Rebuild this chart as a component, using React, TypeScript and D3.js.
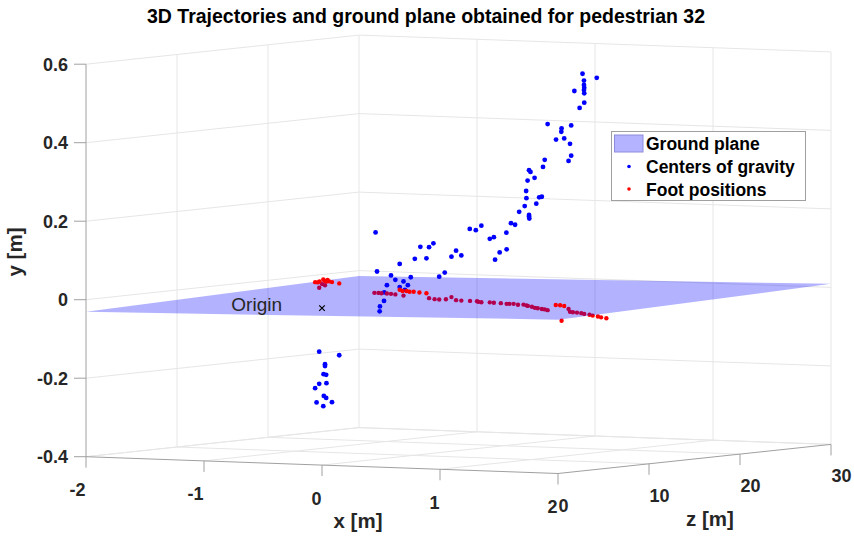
import React, { useEffect, useRef } from "react";
import * as d3 from "d3";

const width = 854;
const height = 537;
const font = "'Liberation Sans', Arial, Helvetica, sans-serif";

const xTicks = [-2, -1, 0, 1, 2];
const yTicks = [-0.4, -0.2, 0, 0.2, 0.4, 0.6];
const zTicks = [0, 10, 20, 30];
const xTickLabels = ["-2", "-1", "0", "1", "2"];
const yTickLabels = ["-0.4", "-0.2", "0", "0.2", "0.4", "0.6"];
const zTickLabels = ["0", "10", "20", "30"];

// ground plane corners (x, z) and fitted height y
const planeX = [-2, -2, 2, 2];
const planeZ = [0, 30, 30, 0];
const planeY = [-0.031, -0.014, 0.009, -0.008];

// [x, y, z] in metres
const centersOfGravity = [
  [-1.89, -0.191, 24.2], [-1.62, -0.194, 22.9], [-1.81, -0.221, 23.8], [-1.81, -0.226, 23.8],
  [-1.83, -0.247, 23.9], [-1.8, -0.248, 23.8], [-1.89, -0.273, 24.2], [-1.79, -0.269, 23.7],
  [-1.94, -0.285, 24.4], [-1.82, -0.302, 23.8], [-1.8, -0.307, 23.8], [-1.92, -0.321, 24.3],
  [-1.72, -0.316, 23.4], [-1.84, -0.329, 24.0],
  [-1.15, 0.129, 20.8], [-1.13, 0.03, 20.7], [-0.95, 0.024, 19.9], [-0.89, 0.014, 19.6],
  [-1.0, -0.002, 20.1], [-0.79, 0.012, 19.2], [-0.73, 0.004, 18.9], [-0.69, 0.025, 18.7],
  [-0.83, -0.003, 19.3], [-0.77, -0.009, 19.1], [-1.03, -0.021, 20.2], [-1.04, -0.043, 20.3],
  [-1.09, -0.058, 20.5], [-1.1, -0.071, 20.6], [-0.83, 0.056, 19.3], [-0.64, 0.073, 18.5],
  [-0.57, 0.105, 18.2], [-0.45, 0.107, 17.6], [-0.39, 0.118, 17.3], [-0.48, 0.078, 17.7],
  [-0.31, 0.035, 16.9], [-0.24, 0.047, 16.6], [-0.16, 0.089, 16.3], [-0.09, 0.106, 15.9],
  [-0.03, 0.095, 15.7], [0.08, 0.165, 15.2], [0.17, 0.164, 14.7], [0.24, 0.177, 14.4],
  [0.35, 0.146, 13.9], [0.4, 0.151, 13.7], [0.41, 0.094, 13.7], [0.48, 0.114, 13.3],
  [0.57, 0.124, 12.9], [0.56, 0.166, 13.0], [0.63, 0.192, 12.6], [0.68, 0.189, 12.4],
  [0.73, 0.223, 12.2], [0.8, 0.239, 11.9], [0.86, 0.218, 11.6], [0.86, 0.214, 11.6],
  [0.87, 0.209, 11.5], [0.82, 0.278, 11.8], [0.83, 0.26, 11.7], [0.84, 0.305, 11.7],
  [0.86, 0.332, 11.6], [0.88, 0.328, 11.5], [0.93, 0.314, 11.3], [0.96, 0.249, 11.1],
  [1.0, 0.266, 10.9], [1.03, 0.268, 10.8], [1.04, 0.344, 10.8], [1.07, 0.363, 10.6],
  [1.11, 0.455, 10.4], [1.22, 0.418, 9.9], [1.28, 0.439, 9.7], [1.29, 0.448, 9.6],
  [1.32, 0.423, 9.5], [1.38, 0.367, 9.2], [1.41, 0.381, 9.1], [1.4, 0.411, 9.1],
  [1.41, 0.458, 9.1], [1.52, 0.505, 8.6], [1.59, 0.52, 8.2], [1.46, 0.547, 8.8],
  [1.56, 0.593, 8.4], [1.58, 0.576, 8.3], [1.58, 0.565, 8.3], [1.59, 0.558, 8.2],
  [1.58, 0.552, 8.3], [1.59, 0.544, 8.2], [1.75, 0.587, 7.5],
];

const footPositions = [
  [-1.94, -0.015, 24.4], [-1.91, -0.015, 24.3], [-1.88, -0.012, 24.1], [-1.84, -0.006, 24.0],
  [-1.82, -0.009, 23.9], [-1.79, -0.01, 23.7], [-1.81, -0.02, 23.8], [-1.89, -0.028, 24.2],
  [-1.72, -0.01, 23.4], [-1.62, -0.011, 22.9], [-1.85, -0.018, 24.0], [-1.78, -0.006, 23.7],
  [-1.76, -0.009, 23.6],
  [-1.16, -0.025, 20.8], [-1.11, -0.024, 20.6], [-1.07, -0.024, 20.4], [-1.0, -0.023, 20.1],
  [-0.95, -0.023, 19.9], [-0.89, -0.023, 19.6], [-0.83, -0.01, 19.3], [-0.79, -0.012, 19.1],
  [-0.74, -0.011, 18.9], [-0.7, -0.012, 18.7], [-0.65, -0.011, 18.5], [-0.57, -0.011, 18.1],
  [-0.48, -0.011, 17.7], [-0.79, -0.024, 19.2], [-0.45, -0.023, 17.6], [-0.38, -0.024, 17.3],
  [-0.31, -0.023, 16.9], [-0.23, -0.021, 16.6], [-0.16, -0.014, 16.3], [-0.09, -0.02, 15.9],
  [-0.03, -0.02, 15.7], [0.09, -0.018, 15.1], [0.18, -0.017, 14.7], [0.2, -0.018, 14.6],
  [0.24, -0.018, 14.4], [0.35, -0.016, 13.9], [0.4, -0.016, 13.7], [0.49, -0.015, 13.3],
  [0.57, -0.015, 12.9], [0.61, -0.014, 12.7], [0.66, -0.013, 12.5], [0.72, -0.014, 12.2],
  [0.79, -0.012, 11.9], [0.83, -0.013, 11.7], [0.85, -0.014, 11.6], [0.9, -0.015, 11.4],
  [0.94, -0.017, 11.2], [0.98, -0.017, 11.0], [1.03, -0.018, 10.8], [1.07, -0.018, 10.6],
  [1.11, -0.019, 10.4], [1.21, -0.004, 10.0], [1.27, -0.003, 9.7], [1.32, -0.004, 9.5],
  [1.38, -0.01, 9.2], [1.4, -0.017, 9.1], [1.44, -0.017, 8.9], [1.49, -0.017, 8.7],
  [1.55, -0.017, 8.4], [1.59, -0.018, 8.2], [1.65, -0.019, 8.0], [1.7, -0.02, 7.7],
  [1.76, -0.021, 7.5], [1.81, -0.022, 7.2], [1.87, -0.023, 7.0], [1.29, -0.042, 9.6],
];

const origin = [0, 0, 0];
const legendItems = ["Ground plane", "Centers of gravity", "Foot positions"];

// fixed MATLAB-like view, orthographic
const xToSx = d3.scaleLinear().domain([-2, 2]).range([86, 558]);
const xToSy = d3.scaleLinear().domain([-2, 2]).range([0, 16.8]);
const yToSy = d3.scaleLinear().domain([-0.4, 0.6]).range([456.7, 64.2]);
const zToSx = d3.scaleLinear().domain([0, 30]).range([0, 273]);
const zToSy = d3.scaleLinear().domain([0, 30]).range([0, -29.1]);

const project = (x: number, y: number, z: number): [number, number] => [
  xToSx(x) + zToSx(z),
  yToSy(y) + xToSy(x) + zToSy(z),
];

const planeAt = (x: number, z: number) =>
  planeY[0] + ((x + 2) / 4) * (planeY[3] - planeY[0]) + (z / 30) * (planeY[1] - planeY[0]);

const App = () => {
  const ref = useRef<SVGSVGElement>(null);

  useEffect(() => {
    const svg = d3.select(ref.current);
    svg.selectAll("*").remove();

    const line3 = (g: any, a: number[], b: number[], color: string, w = 1) => {
      const p = project(a[0], a[1], a[2]);
      const q = project(b[0], b[1], b[2]);
      g.append("line")
        .attr("x1", p[0]).attr("y1", p[1])
        .attr("x2", q[0]).attr("y2", q[1])
        .attr("stroke", color)
        .attr("stroke-width", w);
    };

    // grid on the two back walls and the floor
    const grid = svg.append("g");
    const gc = "#e6e6e6";
    [10, 20, 30].forEach((z) => line3(grid, [-2, -0.4, z], [-2, 0.6, z], gc));
    [-1, 0, 1, 2].forEach((x) => line3(grid, [x, -0.4, 30], [x, 0.6, 30], gc));
    yTicks.forEach((y) => {
      line3(grid, [-2, y, 0], [-2, y, 30], gc);
      line3(grid, [-2, y, 30], [2, y, 30], gc);
    });
    [-2, -1, 0, 1].forEach((x) => line3(grid, [x, -0.4, 0], [x, -0.4, 30], gc));
    [10, 20, 30].forEach((z) => line3(grid, [-2, -0.4, z], [2, -0.4, z], gc));

    // axes
    const ax = svg.append("g");
    const ac = "#a0a0a0";
    line3(ax, [-2, -0.4, 0], [-2, 0.6, 0], ac);
    line3(ax, [-2, -0.4, 0], [2, -0.4, 0], ac);
    line3(ax, [2, -0.4, 0], [2, -0.4, 30], ac);

    const tickText = "#262626";
    yTicks.forEach((y, i) => {
      const [px, py] = project(-2, y, 0);
      ax.append("line").attr("x1", px - 12).attr("x2", px).attr("y1", py).attr("y2", py)
        .attr("stroke", ac);
      ax.append("text").attr("x", px - 18).attr("y", py + 6.5)
        .attr("text-anchor", "end").attr("font-size", 18).attr("font-weight", "bold")
        .attr("font-family", font).attr("fill", tickText).text(yTickLabels[i]);
    });
    xTicks.forEach((x, i) => {
      const [px, py] = project(x, -0.4, 0);
      ax.append("line").attr("x1", px).attr("x2", px).attr("y1", py).attr("y2", py + 11)
        .attr("stroke", ac);
      ax.append("text").attr("x", px - 0.5).attr("y", py + 39.5)
        .attr("text-anchor", "end").attr("font-size", 18).attr("font-weight", "bold")
        .attr("font-family", font).attr("fill", tickText).text(xTickLabels[i]);
    });
    zTicks.forEach((z, i) => {
      const [px, py] = project(2, -0.4, z);
      if (z > 0) {
        ax.append("line").attr("x1", px).attr("x2", px).attr("y1", py).attr("y2", py + 11)
          .attr("stroke", ac);
      }
      ax.append("text").attr("x", px + 0.5).attr("y", py + 38)
        .attr("text-anchor", "start").attr("font-size", 18).attr("font-weight", "bold")
        .attr("font-family", font).attr("fill", tickText).text(zTickLabels[i]);
    });

    ax.append("text").attr("x", 358).attr("y", 528).attr("text-anchor", "middle")
      .attr("font-size", 20.5).attr("font-weight", "bold").attr("font-family", font)
      .attr("fill", tickText).text("x [m]");
    ax.append("text").attr("x", 710).attr("y", 526).attr("text-anchor", "middle")
      .attr("font-size", 20.5).attr("font-weight", "bold").attr("font-family", font)
      .attr("fill", tickText).text("z [m]");
    ax.append("text").attr("transform", "translate(22,252) rotate(-90)")
      .attr("text-anchor", "middle").attr("font-size", 20.5).attr("font-weight", "bold")
      .attr("font-family", font).attr("fill", tickText).text("y [m]");

    // points split by whether they sit below (behind) or above the plane
    const isBehind = (d: number[]) => d[1] < planeAt(d[0], d[2]);
    const drawPoints = (data: number[][], color: string, r: number) =>
      svg.append("g").selectAll("circle").data(data).enter().append("circle")
        .attr("cx", (d) => project(d[0], d[1], d[2])[0])
        .attr("cy", (d) => project(d[0], d[1], d[2])[1])
        .attr("r", r)
        .attr("fill", color);

    drawPoints(centersOfGravity.filter(isBehind), "#0000ff", 2.4);
    drawPoints(footPositions.filter(isBehind), "#ff0000", 2.2);

    const planePts = planeX.map((x, i) => project(x, planeY[i], planeZ[i]));
    svg.append("path")
      .attr("d", d3.line()(planePts) + "Z")
      .attr("fill", "#0000ff")
      .attr("fill-opacity", 0.3)
      .attr("stroke", "none");

    drawPoints(centersOfGravity.filter((d) => !isBehind(d)), "#0000ff", 2.4);
    drawPoints(footPositions.filter((d) => !isBehind(d)), "#ff0000", 2.2);

    // origin marker
    const [ox, oy] = project(origin[0], origin[1], origin[2]);
    svg.append("path")
      .attr("d", `M${ox - 2.8},${oy - 2.8}L${ox + 2.8},${oy + 2.8}M${ox - 2.8},${oy + 2.8}L${ox + 2.8},${oy - 2.8}`)
      .attr("stroke", "#000").attr("stroke-width", 1.2);
    svg.append("text").attr("x", ox - 40).attr("y", oy + 3).attr("text-anchor", "end")
      .attr("font-size", 19).attr("font-family", font).attr("fill", "#262626").text("Origin");

    // title
    svg.append("text").attr("x", 426).attr("y", 23).attr("text-anchor", "middle")
      .attr("font-size", 19.5).attr("font-weight", "bold").attr("font-family", font)
      .attr("fill", "#000").text("3D Trajectories and ground plane obtained for pedestrian 32");

    // legend
    const lg = svg.append("g").attr("transform", "translate(611.5,131.5)");
    lg.append("rect").attr("width", 194).attr("height", 69).attr("fill", "#fff")
      .attr("stroke", "#a0a0a0");
    lg.append("rect").attr("x", 3).attr("y", 3.5).attr("width", 28.5).attr("height", 17)
      .attr("fill", "#b3b3ff").attr("stroke", "#8c8cdc");
    lg.append("circle").attr("cx", 17.5).attr("cy", 35).attr("r", 1.8).attr("fill", "#0000ff");
    lg.append("circle").attr("cx", 17.5).attr("cy", 57.5).attr("r", 1.8).attr("fill", "#ff0000");
    legendItems.forEach((t, i) => {
      lg.append("text").attr("x", 34.5).attr("y", 18.5 + i * 23)
        .attr("font-size", 17.5).attr("font-weight", "bold").attr("font-family", font)
        .attr("fill", "#000").text(t);
    });
  }, []);

  return (
    <svg
      ref={ref}
      width={width}
      height={height}
      style={{ position: "absolute", left: 0, top: 0, background: "#fff" }}
    />
  );
};

export default App;
